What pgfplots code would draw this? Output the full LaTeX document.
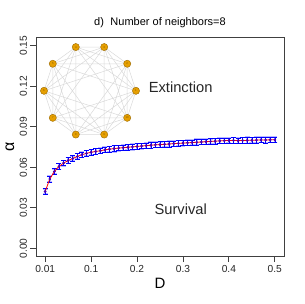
\documentclass[border=0pt]{standalone}
\usepackage{pgfplots}
\pgfplotsset{compat=1.18}
\usepackage{pgfplotstable}
\usepackage{fontspec}
\setmainfont{Liberation Sans}
\definecolor{nodeor}{HTML}{E69F00}
\definecolor{nodebd}{HTML}{9C6A00}
\definecolor{edgegr}{HTML}{D9D9D9}
\definecolor{halo}{HTML}{B8B8FF}

\pgfplotstableread{
x y e
0.00 0.0421 0.0020
0.01 0.0513 0.0021
0.02 0.0569 0.0020
0.03 0.0606 0.0021
0.04 0.0631 0.0020
0.05 0.0650 0.0022
0.06 0.0665 0.0020
0.07 0.0680 0.0021
0.08 0.0693 0.0020
0.09 0.0703 0.0021
0.10 0.0711 0.0020
0.11 0.0717 0.0022
0.12 0.0722 0.0020
0.13 0.0729 0.0021
0.14 0.0734 0.0020
0.15 0.0738 0.0023
0.16 0.0742 0.0020
0.17 0.0745 0.0021
0.18 0.0748 0.0020
0.19 0.0751 0.0021
0.20 0.0754 0.0022
0.21 0.0757 0.0020
0.22 0.0760 0.0021
0.23 0.0763 0.0024
0.24 0.0766 0.0020
0.25 0.0768 0.0021
0.26 0.0770 0.0020
0.27 0.0772 0.0022
0.28 0.0775 0.0020
0.29 0.0777 0.0021
0.30 0.0779 0.0020
0.31 0.0781 0.0021
0.32 0.0783 0.0020
0.33 0.0785 0.0022
0.34 0.0787 0.0020
0.35 0.0789 0.0021
0.36 0.0791 0.0020
0.37 0.0793 0.0021
0.38 0.0795 0.0020
0.39 0.0797 0.0021
0.40 0.0798 0.0020
0.41 0.0799 0.0022
0.42 0.0797 0.0020
0.43 0.0798 0.0021
0.44 0.0799 0.0024
0.45 0.0800 0.0020
0.46 0.0801 0.0021
0.47 0.0802 0.0020
0.48 0.0802 0.0022
0.49 0.0803 0.0020
0.50 0.0803 0.0021
}\alphadata

\pgfplotstableread{
x y lab
1.000 0.0000 1
0.809 0.5878 2
0.309 0.9511 3
-0.309 0.9511 4
-0.809 0.5878 5
-1.000 0.0000 6
-0.809 -0.5878 7
-0.309 -0.9511 8
0.309 -0.9511 9
0.809 -0.5878 10
}\netnodes

\begin{document}
\begin{tikzpicture}
\path[use as bounding box] (-36pt,-47.5pt) rectangle (268pt,256.5pt);
\begin{axis}[
  name=main, at={(0pt,0pt)}, anchor=south west,
  scale only axis, width=248pt, height=219pt,
  xmin=-0.02, xmax=0.52, ymin=-0.006, ymax=0.156,
  axis line style={black!75, line width=0.8pt},
  tick style={black!75, line width=0.8pt},
  tick align=outside, major tick length=5.6pt,
  xtick pos=bottom, ytick pos=left,
  xtick={0,0.1,0.2,0.3,0.4,0.5},
  xticklabels={0.01,0.1,0.2,0.3,0.4,0.5},
  ytick={0,0.03,0.06,0.09,0.12,0.15},
  yticklabels={0.00,0.03,0.06,0.09,0.12,0.15},
  ticklabel style={font=\fontsize{10.2}{12}\selectfont, text=black!85},
  yticklabel style={rotate=90, anchor=south},
  xlabel={D}, ylabel={α},
  xlabel style={font=\fontsize{15}{17}\selectfont, at={(axis description cs:0.5,0)}, anchor=base, yshift=-31.5pt},
  ylabel style={font=\fontsize{16}{18}\selectfont, at={(axis description cs:0,0.5)}, anchor=center, yshift=26pt},
  title={d)\hspace{6.5pt}Number of neighbors=8},
  title style={font=\fontsize{11}{13}\selectfont, at={(axis description cs:0.5,1)}, anchor=base, yshift=6pt},
  clip=false,
]
\addplot[draw=none, mark=none, halo, line width=1.6pt,
  error bars/.cd, y dir=both, y explicit,
  error bar style={halo, line width=1.6pt},
  error mark options={halo, rotate=90, mark size=2.5pt, line width=1.6pt}]
  table[x=x, y=y, y error=e] {\alphadata};
\addplot[draw=none, mark=none, blue, line width=0.6pt,
  error bars/.cd, y dir=both, y explicit,
  error bar style={blue, line width=0.6pt},
  error mark options={blue, rotate=90, mark size=2.5pt, line width=0.6pt}]
  table[x=x, y=y, y error=e] {\alphadata};
\addplot[red, line width=0.8pt, mark=*, mark size=0.9pt,
  mark options={fill=blue!70!red, draw=blue!70!red}]
  table[x=x, y=y] {\alphadata};
\node[font=\fontsize{14.7}{17}\selectfont, text=black!85] at (axis cs:0.295,0.1191) {Extinction};
\node[font=\fontsize{14.7}{17}\selectfont, text=black!85] at (axis cs:0.295,0.0286) {Survival};
\end{axis}
\begin{axis}[
  at={(54pt,165.7pt)}, anchor=center,
  scale only axis, width=101.2pt, height=101.2pt,
  xmin=-1.1, xmax=1.1, ymin=-1.1, ymax=1.1,
  hide axis, clip=false,
]
\addplot[edgegr, line width=0.5pt] coordinates {(1,0) (0.809,0.5878) (0.309,0.9511) (-0.309,0.9511) (-0.809,0.5878) (-1,0) (-0.809,-0.5878) (-0.309,-0.9511) (0.309,-0.9511) (0.809,-0.5878) (1,0)};
\addplot[edgegr, line width=0.5pt] coordinates {(1,0) (0.309,0.9511) (-0.809,0.5878) (-0.809,-0.5878) (0.309,-0.9511) (1,0)};
\addplot[edgegr, line width=0.5pt] coordinates {(0.809,0.5878) (-0.309,0.9511) (-1,0) (-0.309,-0.9511) (0.809,-0.5878) (0.809,0.5878)};
\addplot[edgegr, line width=0.5pt] coordinates {(1,0) (-0.309,0.9511) (-0.809,-0.5878) (0.809,-0.5878) (0.309,0.9511) (-1,0) (0.309,-0.9511) (0.809,0.5878) (-0.809,0.5878) (-0.309,-0.9511) (1,0)};
\addplot[edgegr, line width=0.5pt] coordinates {(1,0) (-0.809,0.5878) (0.309,-0.9511) (0.309,0.9511) (-0.809,-0.5878) (1,0)};
\addplot[edgegr, line width=0.5pt] coordinates {(0.809,0.5878) (-1,0) (0.809,-0.5878) (-0.309,0.9511) (-0.309,-0.9511) (0.809,0.5878)};
\addplot[only marks, mark=*, mark size=3.6pt,
  mark options={fill=nodeor, draw=nodebd, line width=0.4pt},
  nodes near coords, point meta=explicit symbolic,
  nodes near coords align=center,
  every node near coord/.append style={font=\fontsize{2.8}{3}\selectfont, text=nodebd!80!black, inner sep=0pt}]
  table[x=x, y=y, meta=lab] {\netnodes};
\end{axis}
\end{tikzpicture}
\end{document}
